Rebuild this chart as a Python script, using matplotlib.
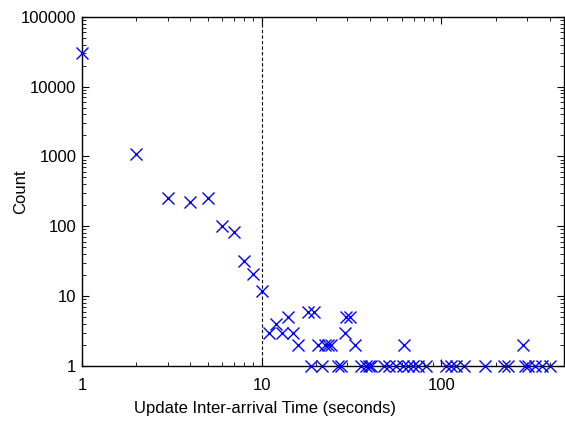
import matplotlib
matplotlib.use("Agg")
import matplotlib.pyplot as plt
import matplotlib.ticker as ticker

plt.rcParams["font.family"] = ["Liberation Sans", "DejaVu Sans"]

# inter-arrival times (s) and counts
times_head = [1, 2, 3, 4, 5, 6, 7, 8, 9, 10]
counts_head = [30000, 1100, 255, 220, 250, 102, 82, 32, 21, 12]

times_mid = [11, 12, 13, 14, 15, 16, 18, 19.5, 20.5, 22.4, 23.4, 24.4,
             29, 29.5, 31, 33, 62, 283]
counts_mid = [3, 4, 3, 5, 3, 2, 6, 6, 2, 2, 2, 2,
              3, 5, 5, 2, 2, 2]

times_ones = [18.7, 21.7, 26.5, 27.7, 35.8, 38.2, 39.8, 40.7, 48.2, 51.4,
              56, 61, 65, 69.3, 73.8, 82.2, 106, 113, 121, 134,
              175, 224, 234, 292, 305, 333, 363, 403]
counts_ones = [1] * len(times_ones)

times = times_head + times_mid + times_ones
counts = counts_head + counts_mid + counts_ones

fig = plt.figure(figsize=(5.65, 4.21), dpi=100)
ax = fig.add_axes([0.145, 0.131, 0.853, 0.829])

ax.plot(times, counts, linestyle="none", marker="x", color="#0000ff",
        markersize=8.5, markeredgewidth=1.0, clip_on=False, zorder=3)
ax.axvline(10, color="black", linestyle=(0, (3, 2)), linewidth=0.8)

ax.set_xscale("log")
ax.set_yscale("log")
ax.set_xlim(1, 480)
ax.set_ylim(1, 100000)

ax.set_xticks([1, 10, 100])
ax.set_xticklabels(["1", "10", "100"])
ax.set_yticks([1, 10, 100, 1000, 10000, 100000])
ax.set_yticklabels(["1", "10", "100", "1000", "10000", "100000"])
ax.xaxis.set_minor_locator(ticker.LogLocator(base=10, subs=range(2, 10)))
ax.yaxis.set_minor_locator(ticker.LogLocator(base=10, subs=range(2, 10)))
ax.xaxis.set_minor_formatter(ticker.NullFormatter())
ax.yaxis.set_minor_formatter(ticker.NullFormatter())

ax.tick_params(which="both", direction="in", top=True, right=True, labelsize=12)
ax.tick_params(which="major", length=5, width=0.8)
ax.tick_params(which="minor", length=3, width=0.6)
ax.tick_params(axis="x", which="major", pad=9)
ax.tick_params(axis="y", which="major", pad=4)
for s in ax.spines.values():
    s.set_linewidth(1.0)

ax.set_ylabel("Count", fontsize=12)
ax.yaxis.set_label_coords(-0.112, 0.5)
ax.set_xlabel("Update Inter-arrival Time (seconds)", fontsize=12)
ax.xaxis.set_label_coords(0.379, -0.10)

fig.savefig("out.png", dpi=100)
